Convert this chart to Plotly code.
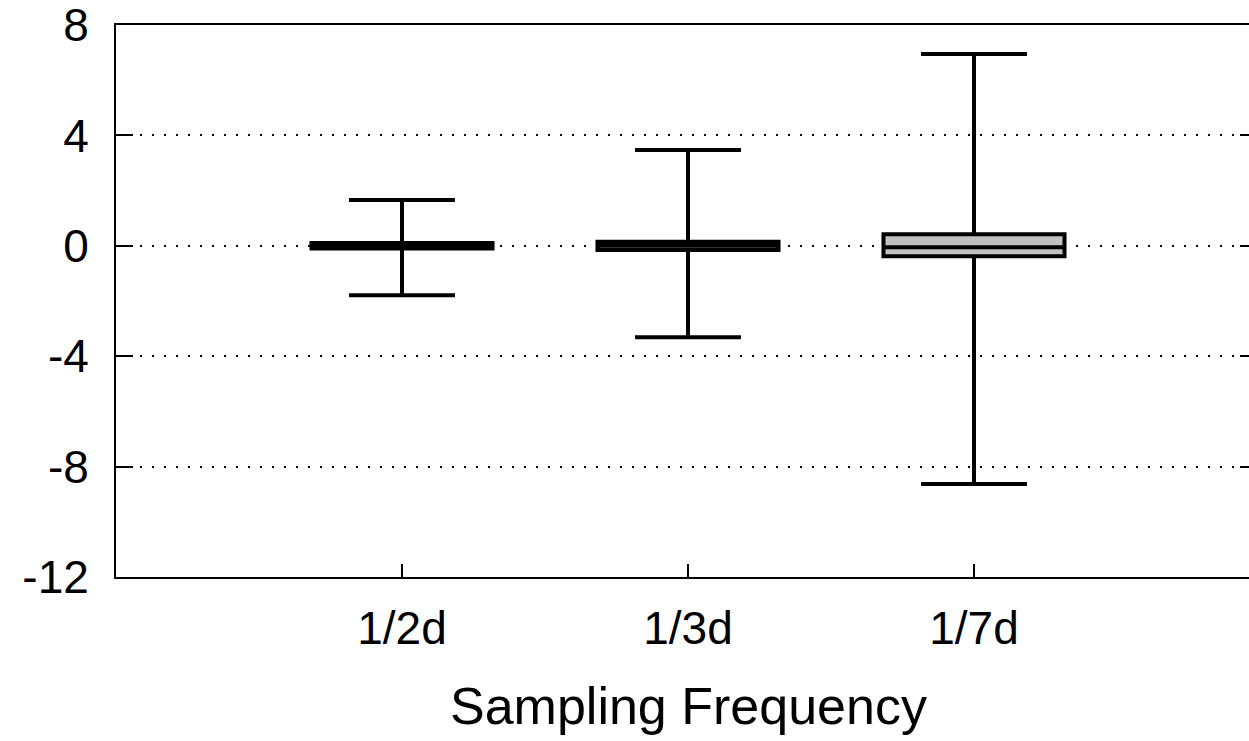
import plotly.graph_objects as go

# Summary statistics per sampling frequency
categories = ["1/2d", "1/3d", "1/7d"]
positions = [1, 2, 3]
upper_fence = [1.66, 3.47, 6.95]
q3_values = [0.10, 0.15, 0.42]
medians = [0.0, 0.0, -0.05]
q1_values = [-0.10, -0.15, -0.38]
lower_fence = [-1.79, -3.31, -8.63]

y_ticks = [8, 4, 0, -4, -8, -12]

FONT = "Liberation Sans, Arial, sans-serif"

fig = go.Figure()
for i, cat in enumerate(categories):
    fig.add_trace(go.Box(
        x=[positions[i]],
        q1=[q1_values[i]], median=[medians[i]], q3=[q3_values[i]],
        lowerfence=[lower_fence[i]], upperfence=[upper_fence[i]],
        name=cat,
        width=0.633,
        whiskerwidth=0.585,
        fillcolor="#c0c0c0",
        line=dict(color="black", width=4),
        showlegend=False,
        hoverinfo="skip",
    ))

# Empty trace so the right-hand tick axis is rendered
fig.add_trace(go.Scatter(x=[], y=[], yaxis="y2", showlegend=False))

W, H = 1249, 741
L, R, T, B = 116, 0, 25, 164
px_per_cat = 286
x_max = (W - L - R) / px_per_cat
y_range = [-12.0001, 8.0001]

fig.update_layout(
    width=W, height=H,
    margin=dict(l=L, r=R, t=T, b=B),
    plot_bgcolor="white", paper_bgcolor="white",
    font=dict(family=FONT, color="black"),
    xaxis=dict(
        range=[0, x_max],
        tickvals=positions, ticktext=categories,
        ticks="inside", ticklen=13, tickwidth=2, tickcolor="black",
        showline=True, linecolor="black", linewidth=2, mirror=True,
        showgrid=False, zeroline=False,
        tickfont=dict(size=46, family=FONT),
        ticklabelstandoff=10,
    ),
    yaxis=dict(
        range=y_range,
        tickvals=y_ticks, ticktext=[str(v) for v in y_ticks],
        ticks="inside", ticklen=17, tickwidth=2, tickcolor="black",
        showline=True, linecolor="black", linewidth=2, mirror=False,
        showgrid=True, gridcolor="black", gridwidth=1.5, griddash="2px,10px",
        zeroline=False,
        tickfont=dict(size=46, family=FONT),
        ticklabelstandoff=16,
        ticklabeloverflow="allow",
    ),
    yaxis2=dict(
        range=y_range, overlaying="y", side="right", anchor="x",
        tickvals=y_ticks, ticks="inside", ticklen=9, tickwidth=2, tickcolor="black",
        showticklabels=False, showgrid=False, showline=False, zeroline=False,
    ),
    annotations=[dict(
        text="Sampling Frequency", x=2, xref="x",
        y=-(706 - (H - B)) / (H - T - B), yref="paper", yanchor="middle",
        showarrow=False, font=dict(size=52, family=FONT),
    )],
)

fig.write_html("out.html")
